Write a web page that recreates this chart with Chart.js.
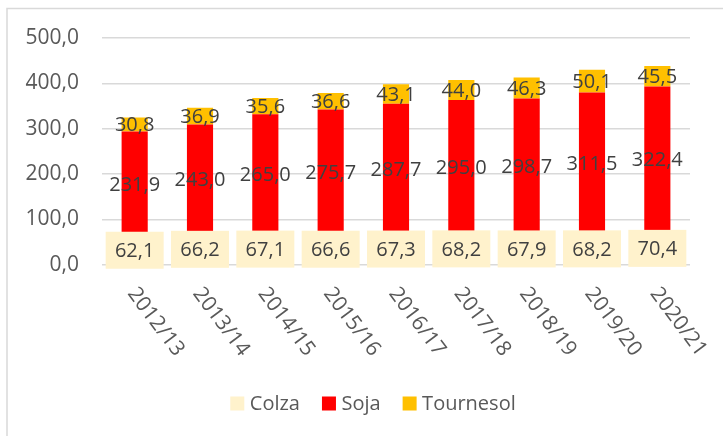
<!DOCTYPE html>
<html><head><meta charset="utf-8">
<script src="https://cdn.jsdelivr.net/npm/chart.js@4.4.1/dist/chart.umd.min.js"></script>
<style>html,body{margin:0;padding:0;background:#fff;overflow:hidden}canvas{display:block}</style>
</head><body>
<canvas id="c" width="723" height="436" style="width:723px;height:436px"></canvas>
<script>
const categories = ['2012/13','2013/14','2014/15','2015/16','2016/17','2017/18','2018/19','2019/20','2020/21'];
const colza = [62.1, 66.2, 67.1, 66.6, 67.3, 68.2, 67.9, 68.2, 70.4];
const soja = [231.9, 243.0, 265.0, 275.7, 287.7, 295.0, 298.7, 311.5, 322.4];
const tournesol = [30.8, 36.9, 35.6, 36.6, 43.1, 44.0, 46.3, 50.1, 45.5];
const seriesNames = ['Colza', 'Soja', 'Tournesol'];
const yMin = 0, yMax = 500, yStep = 100;

const FONT = '"Open Sans", "DejaVu Sans", sans-serif';
const fmt = v => v.toFixed(1).replace('.', ',');

const borderPlugin = {
  id: 'frame',
  beforeDraw(chart) {
    const ctx = chart.ctx;
    ctx.save();
    ctx.fillStyle = '#ffffff';
    ctx.fillRect(0, 0, chart.width, chart.height);
    ctx.strokeStyle = '#D9D9D9';
    ctx.lineWidth = 1.5;
    ctx.beginPath();
    ctx.moveTo(7, chart.height);
    ctx.lineTo(7, 8.5);
    ctx.lineTo(chart.width, 8.5);
    ctx.stroke();
    ctx.restore();
  }
};

const labelPlugin = {
  id: 'vals',
  afterDatasetsDraw(chart) {
    const ctx = chart.ctx;
    ctx.save();
    ctx.font = '20px ' + FONT;
    ctx.textAlign = 'center';
    ctx.textBaseline = 'middle';
    chart.data.datasets.forEach((ds, di) => {
      const meta = chart.getDatasetMeta(di);
      meta.data.forEach((el, i) => {
        const cy = (el.y + el.base) / 2;
        if (di === 0) {
          ctx.fillStyle = '#FFF2CC';
          ctx.fillRect(el.x - 29, cy - 18.5, 58, 37);
        }
        ctx.fillStyle = '#404040';
        ctx.fillText(fmt(ds.data[i]), el.x, cy + 1);
      });
    });
    ctx.restore();
  },
  afterDraw(chart) {
    const ctx = chart.ctx;
    const xs = chart.scales.x;
    ctx.save();
    ctx.font = '21px ' + FONT;
    ctx.fillStyle = '#595959';
    ctx.textAlign = 'left';
    ctx.textBaseline = 'middle';
    chart.data.labels.forEach((lab, i) => {
      const x = xs.getPixelForValue(i);
      ctx.save();
      ctx.translate(x - 3, 290);
      ctx.rotate(53 * Math.PI / 180);
      ctx.fillText(lab, 0, 0);
      ctx.restore();
    });
    // custom legend centred at x = 373
    ctx.font = '20px ' + FONT;
    const box = 14, gapText = 5.5, gapItem = 22, cy = 403.5;
    const items = chart.data.datasets.map(ds => ({ name: ds.label, color: ds.backgroundColor, w: ctx.measureText(ds.label).width }));
    const total = items.reduce((s, it) => s + box + gapText + it.w, 0) + gapItem * (items.length - 1);
    let x = 373 - total / 2;
    items.forEach(it => {
      ctx.fillStyle = it.color;
      ctx.fillRect(x, cy - 7, box, box);
      ctx.fillStyle = '#595959';
      ctx.fillText(it.name, x + box + gapText, cy + 1);
      x += box + gapText + it.w + gapItem;
    });
    ctx.restore();
  }
};

new Chart(document.getElementById('c'), {
  type: 'bar',
  data: {
    labels: categories,
    datasets: [
      { label: seriesNames[0], data: colza, backgroundColor: '#FFF2CC', borderWidth: 0 },
      { label: seriesNames[1], data: soja, backgroundColor: '#FF0000', borderWidth: 0 },
      { label: seriesNames[2], data: tournesol, backgroundColor: '#FFC000', borderWidth: 0 }
    ]
  },
  options: {
    responsive: false,
    animation: false,
    devicePixelRatio: 1,
    layout: { padding: { left: 0, right: 33, top: 38, bottom: 0 } },
    datasets: { bar: { categoryPercentage: 1, barPercentage: 0.4 } },
    scales: {
      x: {
        stacked: true,
        grid: { display: false, drawTicks: false },
        border: { display: false },
        ticks: { display: false },
        afterFit(s) { s.height = 171.3; }
      },
      y: {
        stacked: true,
        min: yMin, max: yMax,
        ticks: {
          stepSize: yStep,
          padding: 23,
          color: '#595959',
          font: { size: 21, family: FONT },
          callback: v => fmt(v)
        },
        grid: { color: '#D9D9D9', lineWidth: 1.5, drawTicks: false },
        border: { display: false },
        afterFit(s) { s.width = 102; }
      }
    },
    plugins: {
      legend: { display: false },
      tooltip: { enabled: false }
    }
  },
  plugins: [borderPlugin, labelPlugin]
});
</script>
</body></html>
